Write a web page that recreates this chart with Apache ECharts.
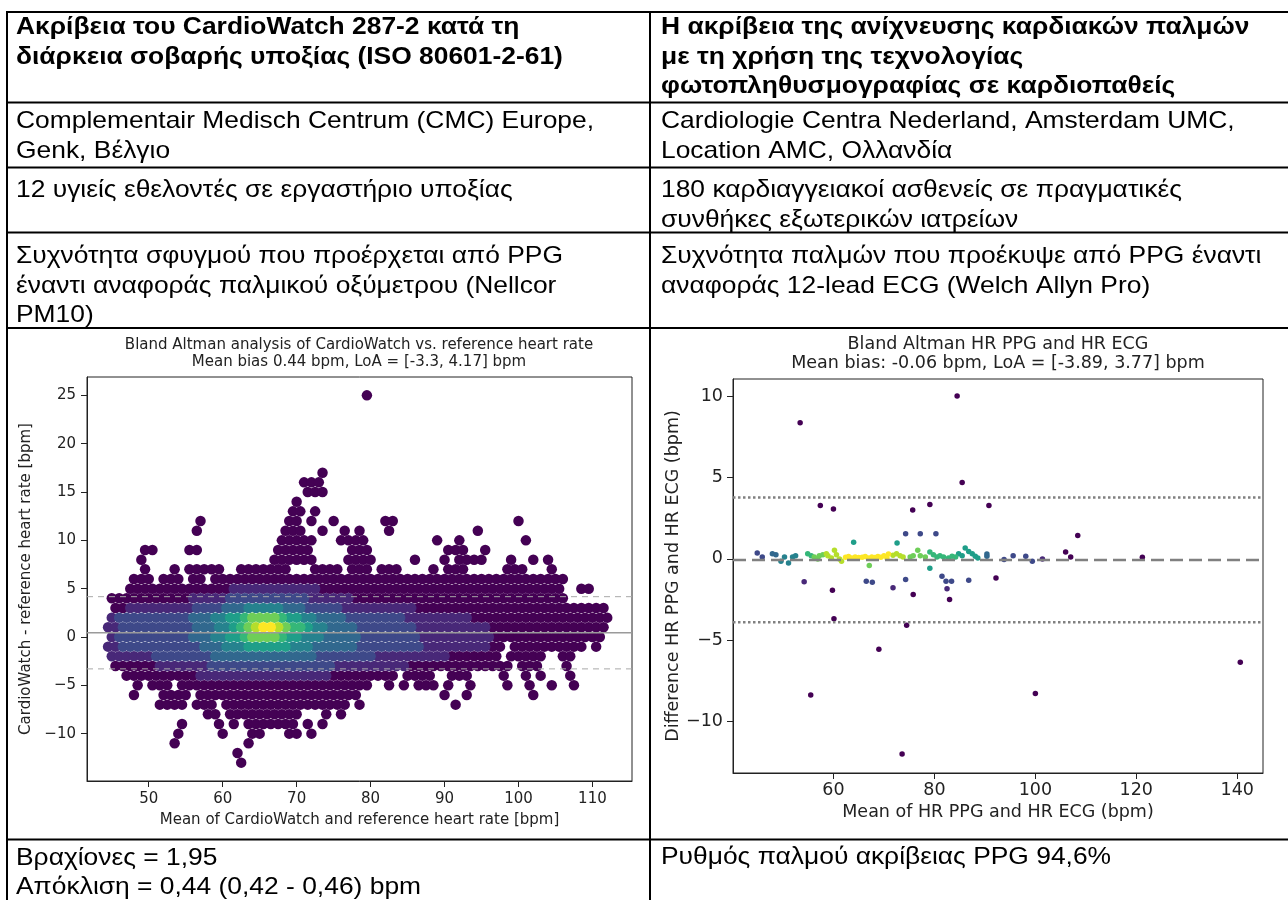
<!DOCTYPE html>
<html>
<head>
<meta charset="utf-8">
<script src="https://cdn.jsdelivr.net/npm/echarts@6.0.0/dist/echarts.min.js"></script>
<style>
  html, body { margin: 0; padding: 0; background: #fff; }
  #c { width: 1288px; height: 900px; }
</style>
</head>
<body>
<div id="c"></div>
<script>
// ---------- table text ----------
const leftHeader = ["Ακρίβεια του CardioWatch 287-2 κατά τη", "διάρκεια σοβαρής υποξίας (ISO 80601-2-61)"];
const rightHeader = ["Η ακρίβεια της ανίχνευσης καρδιακών παλμών", "με τη χρήση της τεχνολογίας", "φωτοπληθυσμογραφίας σε καρδιοπαθείς"];
const leftSite = ["Complementair Medisch Centrum (CMC) Europe,", "Genk, Βέλγιο"];
const rightSite = ["Cardiologie Centra Nederland, Amsterdam UMC,", "Location AMC, Ολλανδία"];
const leftSubjects = ["12 υγιείς εθελοντές σε εργαστήριο υποξίας"];
const rightSubjects = ["180 καρδιαγγειακοί ασθενείς σε πραγματικές", "συνθήκες εξωτερικών ιατρείων"];
const leftMethod = ["Συχνότητα σφυγμού που προέρχεται από PPG", "έναντι αναφοράς παλμικού οξύμετρου (Nellcor", "PM10)"];
const rightMethod = ["Συχνότητα παλμών που προέκυψε από PPG έναντι", "αναφοράς 12-lead ECG (Welch Allyn Pro)"];
const leftResult = ["Βραχίονες = 1,95", "Απόκλιση = 0,44 (0,42 - 0,46) bpm"];
const rightResult = ["Ρυθμός παλμού ακρίβειας PPG 94,6%"];

// ---------- CardioWatch Bland-Altman (left) ----------
const cwBias = 0.44;
const cwLoA = [-3.3, 4.17];
const cwXRange = [41.65, 115.35];
const cwYRange = [-14.9, 26.9];
const cwXTicks = [50, 60, 70, 80, 90, 100, 110];
const cwYTicks = [-10, -5, 0, 5, 10, 15, 20, 25];
// rows of points: [difference, first mean, last mean, density level 0-9], one point per bpm
const cwUpper = [
  [25, 79.5, 79.5, 0],
  [17, 73.5, 73.5, 0],
  [16, 71, 73, 0],
  [15, 71.5, 73.5, 0],
  [14, 70, 70, 0],
  [13, 69.5, 70.5, 0], [13, 72.5, 72.5, 0],
  [12, 57, 57, 0], [12, 69, 70, 0], [12, 72, 72, 0], [12, 75, 75, 0], [12, 82, 83, 0], [12, 100, 100, 0],
  [11, 56.5, 56.5, 0], [11, 68.5, 70.5, 0], [11, 73.5, 73.5, 0], [11, 76.5, 76.5, 0], [11, 78.5, 78.5, 0], [11, 82.5, 82.5, 0], [11, 94.5, 94.5, 0],
  [10, 68, 72, 0], [10, 76, 79, 0], [10, 89, 89, 0], [10, 92, 92, 0], [10, 101, 101, 0],
  [9, 49.5, 50.5, 0], [9, 55.5, 56.5, 0], [9, 67.5, 71.5, 0], [9, 77.5, 79.5, 0], [9, 90.5, 92.5, 0], [9, 95.5, 95.5, 0],
  [8, 49, 49, 0], [8, 67, 72, 0], [8, 77, 80, 0], [8, 86, 86, 0], [8, 90, 90, 0], [8, 92, 95, 0], [8, 99, 99, 0], [8, 102, 102, 0], [8, 104, 104, 0],
  [7, 49.5, 49.5, 0], [7, 53.5, 53.5, 0], [7, 55.5, 59.5, 0], [7, 62.5, 68.5, 0], [7, 72.5, 75.5, 0], [7, 77.5, 79.5, 0], [7, 81.5, 83.5, 0], [7, 88.5, 88.5, 0], [7, 90.5, 92.5, 0], [7, 98.5, 100.5, 0], [7, 104.5, 104.5, 0],
  [6, 48, 50, 0], [6, 52, 54, 0], [6, 56, 57, 0], [6, 59, 106, 0]
];
const cwBody = [
  [5, 47.5, 60.5, 0], [5, 61.5, 72.5, 1], [5, 73.5, 105.5, 0], [5, 108.5, 109.5, 0],
  [4, 45, 55, 0], [4, 56, 60, 1], [4, 61, 71, 2], [4, 72, 77, 1], [4, 78, 106, 0],
  [3, 45.5, 46.5, 0], [3, 47.5, 55.5, 1], [3, 56.5, 59.5, 2], [3, 60.5, 62.5, 3], [3, 63.5, 67.5, 4], [3, 68.5, 70.5, 3], [3, 71.5, 75.5, 2], [3, 76.5, 85.5, 1], [3, 86.5, 111.5, 0],
  [2, 45, 45, 1], [2, 46, 55, 2], [2, 56, 58, 3], [2, 59, 60, 4], [2, 61, 62, 5], [2, 63, 63, 6], [2, 64, 67, 7], [2, 68, 68, 6], [2, 69, 70, 5], [2, 71, 72, 4], [2, 73, 76, 3], [2, 77, 84, 2], [2, 85, 93, 1], [2, 94, 112, 0],
  [1, 44.5, 45.5, 1], [1, 46.5, 55.5, 2], [1, 56.5, 58.5, 3], [1, 59.5, 60.5, 4], [1, 61.5, 61.5, 5], [1, 62.5, 62.5, 6], [1, 63.5, 63.5, 7], [1, 64.5, 64.5, 8], [1, 65.5, 66.5, 9], [1, 67.5, 67.5, 8], [1, 68.5, 68.5, 7], [1, 69.5, 70.5, 6], [1, 71.5, 71.5, 5], [1, 72.5, 73.5, 4], [1, 74.5, 77.5, 3], [1, 78.5, 85.5, 2], [1, 86.5, 95.5, 1], [1, 96.5, 111.5, 0],
  [0, 45, 45, 1], [0, 46, 55, 2], [0, 56, 58, 3], [0, 59, 60, 4], [0, 61, 62, 5], [0, 63, 63, 6], [0, 64, 67, 7], [0, 68, 68, 6], [0, 69, 70, 5], [0, 71, 73, 4], [0, 74, 78, 3], [0, 79, 86, 2], [0, 87, 96, 1], [0, 97, 111, 0],
  [-1, 44.5, 45.5, 1], [-1, 46.5, 56.5, 2], [-1, 57.5, 59.5, 3], [-1, 60.5, 62.5, 4], [-1, 63.5, 68.5, 5], [-1, 69.5, 71.5, 4], [-1, 72.5, 77.5, 3], [-1, 78.5, 86.5, 2], [-1, 87.5, 95.5, 1], [-1, 96.5, 97.5, 0], [-1, 99.5, 108.5, 0], [-1, 110.5, 110.5, 0],
  [-2, 45, 50, 1], [-2, 51, 58, 2], [-2, 59, 72, 3], [-2, 73, 80, 2], [-2, 81, 90, 1], [-2, 91, 97, 0], [-2, 99, 103, 0], [-2, 106, 107, 0],
  [-3, 45.5, 50.5, 0], [-3, 51.5, 57.5, 1], [-3, 58.5, 74.5, 2], [-3, 75.5, 84.5, 1], [-3, 85.5, 98.5, 0], [-3, 100.5, 102.5, 0], [-3, 106.5, 106.5, 0],
  [-4, 47, 56, 0], [-4, 57, 74, 1], [-4, 75, 83, 0], [-4, 85, 88, 0], [-4, 91, 93, 0], [-4, 98, 98, 0], [-4, 101, 101, 0], [-4, 103, 103, 0], [-4, 107, 107, 0]
];
const cwLower = [
  [-5, 48.5, 48.5, 0], [-5, 50.5, 52.5, 0], [-5, 54.5, 56.5, 0], [-5, 57.5, 79.5, 0], [-5, 82.5, 82.5, 0], [-5, 84.5, 84.5, 0], [-5, 86.5, 88.5, 0], [-5, 90.5, 90.5, 0], [-5, 93.5, 93.5, 0], [-5, 98.5, 98.5, 0], [-5, 101.5, 101.5, 0], [-5, 104.5, 104.5, 0], [-5, 107.5, 107.5, 0],
  [-6, 48, 48, 0], [-6, 52, 55, 0], [-6, 57, 78, 0], [-6, 90, 90, 0], [-6, 93, 93, 0], [-6, 102, 102, 0],
  [-7, 51.5, 54.5, 0], [-7, 56.5, 58.5, 0], [-7, 60.5, 76.5, 0], [-7, 78.5, 78.5, 0], [-7, 91.5, 91.5, 0],
  [-8, 58, 59, 0], [-8, 61, 70, 0], [-8, 74, 74, 0], [-8, 76, 76, 0],
  [-9, 54.5, 54.5, 0], [-9, 59.5, 59.5, 0], [-9, 61.5, 61.5, 0], [-9, 63.5, 69.5, 0], [-9, 71.5, 71.5, 0], [-9, 73.5, 73.5, 0],
  [-10, 54, 54, 0], [-10, 60, 60, 0], [-10, 64, 65, 0], [-10, 69, 70, 0], [-10, 72, 72, 0],
  [-11, 53.5, 53.5, 0], [-11, 63.5, 63.5, 0],
  [-12, 62, 62, 0],
  [-13, 62.5, 62.5, 0]
];

// ---------- PPG vs ECG Bland-Altman (right) ----------
const ppgBias = -0.06;
const ppgLoA = [-3.89, 3.77];
const ppgXRange = [40.1, 145.1];
const ppgYRange = [-13.15, 11.05];
const ppgXTicks = [60, 80, 100, 120, 140];
const ppgYTicks = [-10, -5, 0, 5, 10];
// [mean HR, difference, density level 0-9]
const ppgBand = [
  [44.9, 0.37, 2], [45.9, 0.12, 2], [47.9, 0.32, 3], [48.6, 0.26, 3],
  [49.6, -0.15, 4], [50.3, 0.12, 4], [51.1, -0.25, 4], [51.9, 0.12, 4], [52.5, 0.2, 4],
  [54.9, 0.32, 6], [55.6, 0.2, 6], [56.2, 0.12, 7], [56.9, 0.0, 7], [57.2, 0.2, 7], [57.9, 0.26, 7],
  [58.6, 0.32, 8], [58.9, 0.2, 8], [59.6, 0.06, 8], [60.2, 0.53, 8], [60.6, 0.26, 8], [61.2, 0.0, 8], [61.6, -0.15, 8],
  [62.4, 0.1, 9], [63.0, 0.15, 9], [63.6, 0.05, 9], [64.3, 0.12, 9], [65.0, 0.08, 9], [65.7, 0.1, 9],
  [66.3, 0.15, 9], [66.9, 0.05, 9], [67.6, 0.12, 9], [68.2, 0.08, 9], [68.8, 0.15, 9], [69.4, 0.1, 9],
  [70.0, 0.2, 9], [70.6, 0.05, 9], [70.9, 0.3, 9],
  [71.8, 0.22, 8], [72.5, 0.32, 8], [73.2, 0.2, 8], [73.8, 0.12, 8],
  [75.2, 0.12, 7], [75.8, 0.2, 7], [76.7, 0.53, 7], [77.2, 0.2, 7], [78.2, 0.12, 7],
  [79.1, 0.43, 6], [79.8, 0.26, 6], [80.5, 0.12, 6], [81.1, 0.2, 6], [81.8, 0.12, 6], [82.8, 0.06, 6], [83.5, 0.16, 6], [84.2, 0.12, 6],
  [84.8, 0.32, 5], [85.5, 0.2, 5], [86.1, 0.67, 5], [86.8, 0.46, 5], [87.5, 0.32, 5], [88.1, 0.16, 5], [88.6, 0.06, 5],
  [90.4, 0.3, 3], [90.4, 0.16, 3],
  [93.8, -0.04, 2], [95.6, 0.2, 2], [98.1, 0.16, 2], [99.4, -0.15, 2], [101.4, 0.0, 1],
  [106.0, 0.43, 0], [107.0, 0.12, 0], [121.2, 0.1, 0]
];
const ppgOff = [
  [53.4, 8.36, 0], [84.5, 10.0, 0], [85.5, 4.69, 0], [57.4, 3.28, 0], [60.0, 3.06, 0], [75.7, 3.0, 0],
  [79.1, 3.34, 0], [90.8, 3.28, 0], [108.4, 1.43, 0],
  [64.0, 1.02, 5], [72.6, 0.98, 5], [74.3, 1.55, 2], [77.2, 1.55, 2], [80.3, 1.55, 2],
  [54.2, -1.41, 1], [59.8, -1.92, 0], [60.1, -3.67, 0], [66.5, -1.37, 2], [67.7, -1.43, 2],
  [71.8, -1.77, 1], [74.3, -1.27, 2], [75.8, -2.18, 0], [74.5, -4.08, 0], [67.1, -0.41, 7],
  [79.1, -0.57, 5], [81.5, -1.06, 2], [82.3, -1.37, 2], [83.4, -1.37, 2], [82.5, -1.84, 1],
  [83.0, -2.5, 0], [86.8, -1.31, 2], [92.2, -1.18, 0],
  [69.0, -5.55, 0], [55.5, -8.36, 0], [73.6, -11.99, 0], [100.0, -8.26, 0], [140.6, -6.34, 0]
];

// ---------- helpers ----------
const viridis = ['#440154', '#482878', '#3e4989', '#31688e', '#26828e', '#1f9e89', '#35b779', '#6ece58', '#b5de2b', '#fde725'];
const byLevel = (a, b) => a[2] - b[2];

function expandRows(rows) {
  const pts = [];
  rows.forEach(([y, x0, x1, lvl]) => {
    for (let x = x0; x <= x1 + 1e-9; x += 1) pts.push([x, y, lvl]);
  });
  return pts;
}
const cwPoints = expandRows(cwUpper.concat(cwBody, cwLower)).sort(byLevel);
const ppgPoints = ppgBand.concat(ppgOff).sort(byLevel);

const minus = v => String(v).replace('-', '\u2212');
const fmt = v => (v < 0 ? '-' : '') + Math.abs(v);

const cwTitle = 'Bland Altman analysis of CardioWatch vs. reference heart rate\nMean bias ' + cwBias +
  ' bpm, LoA = [' + fmt(cwLoA[0]) + ', ' + fmt(cwLoA[1]) + '] bpm';
const ppgTitle = 'Bland Altman HR PPG and HR ECG\nMean bias: ' + ppgBias.toFixed(2) +
  ' bpm, LoA = [' + ppgLoA[0] + ', ' + ppgLoA[1] + '] bpm';

// ---------- table drawing ----------
const tableFont = 'Liberation Sans, Arial, sans-serif';
const TFS = 24, TLH = 29.4, TSX = 1.1;
function cell(lines, x, yMid, bold) {
  return {
    type: 'text', x: x, y: yMid - TLH / 2, scaleX: TSX, silent: true,
    style: {
      text: lines.join('\n'), fill: '#000', lineHeight: TLH,
      font: (bold ? 'bold ' : '') + TFS + 'px ' + tableFont,
      verticalAlign: 'top', align: 'left'
    }
  };
}
function hline(y, x1, x2) {
  return { type: 'line', silent: true, shape: { x1: x1, y1: y, x2: x2, y2: y }, style: { stroke: '#000', lineWidth: 2 } };
}
function vline(x, y1, y2) {
  return { type: 'line', silent: true, shape: { x1: x, y1: y1, x2: x, y2: y2 }, style: { stroke: '#000', lineWidth: 2 } };
}
const LX = 16, RX = 661;
const graphics = [
  hline(12, 6, 1288), hline(102.5, 6, 1288), hline(167.5, 6, 1288), hline(232.5, 6, 1288),
  hline(328, 6, 1288), hline(839.5, 6, 1288),
  vline(7, 11, 900), vline(650, 11, 900),
  cell(leftHeader, LX, 27.5, true), cell(rightHeader, RX, 27.5, true),
  cell(leftSite, LX, 121.5), cell(rightSite, RX, 121.5),
  cell(leftSubjects, LX, 190.5), cell(rightSubjects, RX, 190.5),
  cell(leftMethod, LX, 256.5), cell(rightMethod, RX, 256.5),
  cell(leftResult, LX, 858), cell(rightResult, RX, 857.5)
];

// ---------- axes ----------
const chartFont = 'DejaVu Sans, sans-serif';
function valueAxis(grid, range, ticks, fs, margin, name, gap) {
  return {
    type: 'value', gridIndex: grid, min: range[0], max: range[1],
    splitLine: { show: false },
    axisLine: { show: true, onZero: false, lineStyle: { color: '#222', width: 1 } },
    axisTick: { show: true, customValues: ticks, length: 6, lineStyle: { color: '#222', width: 1 } },
    axisLabel: { customValues: ticks, formatter: minus, fontSize: fs, color: '#222', margin: margin, fontFamily: chartFont },
    name: name, nameLocation: 'middle', nameGap: gap,
    nameTextStyle: { fontSize: fs, color: '#222', fontFamily: chartFont }
  };
}
function hLineSeries(xi, xr, y, style, z) {
  return {
    type: 'line', xAxisIndex: xi, yAxisIndex: xi, data: [[xr[0], y], [xr[1], y]],
    symbol: 'none', lineStyle: style, z: z, silent: true, animation: false
  };
}

const option = {
  animation: false,
  backgroundColor: '#fff',
  graphic: graphics,
  title: [
    { text: cwTitle, left: 359, top: 336.5, textAlign: 'center', padding: 0,
      textStyle: { fontFamily: chartFont, fontSize: 15, fontWeight: 'normal', color: '#222', lineHeight: 17 } },
    { text: ppgTitle, left: 998, top: 334.5, textAlign: 'center', padding: 0,
      textStyle: { fontFamily: chartFont, fontSize: 17.5, fontWeight: 'normal', color: '#222', lineHeight: 19.5 } }
  ],
  grid: [
    { left: 87, top: 377, width: 545, height: 404, show: true, borderColor: '#222', borderWidth: 1, backgroundColor: 'transparent' },
    { left: 733, top: 379, width: 530, height: 394, show: true, borderColor: '#222', borderWidth: 1, backgroundColor: 'transparent' }
  ],
  xAxis: [
    valueAxis(0, cwXRange, cwXTicks, 15, 10.5, 'Mean of CardioWatch and reference heart rate [bpm]', 31.5),
    valueAxis(1, ppgXRange, ppgXTicks, 17.5, 8.5, 'Mean of HR PPG and HR ECG (bpm)', 30)
  ],
  yAxis: [
    valueAxis(0, cwYRange, cwYTicks, 15, 11, 'CardioWatch - reference heart rate [bpm]', 53.5),
    valueAxis(1, ppgYRange, ppgYTicks, 17.5, 10, 'Difference HR PPG and HR ECG (bpm)', 49.5)
  ],
  series: [
    {
      type: 'scatter', xAxisIndex: 0, yAxisIndex: 0, data: cwPoints, symbolSize: 10.5, z: 2,
      silent: true, progressive: 0, large: false,
      itemStyle: { color: p => viridis[p.data[2]], opacity: 1 }
    },
    hLineSeries(0, cwXRange, cwBias, { color: '#9a9a9a', width: 1.5 }, 5),
    hLineSeries(0, cwXRange, cwLoA[0], { color: '#a8a8a8', width: 1, type: [6, 5] }, 5),
    hLineSeries(0, cwXRange, cwLoA[1], { color: '#a8a8a8', width: 1, type: [6, 5] }, 5),
    {
      type: 'scatter', xAxisIndex: 1, yAxisIndex: 1, data: ppgPoints, symbolSize: 5.5, z: 2,
      silent: true, progressive: 0,
      itemStyle: { color: p => viridis[p.data[2]], opacity: 1 }
    },
    hLineSeries(1, ppgXRange, ppgBias, { color: '#808080', width: 2.5, type: [13, 6] }, 5),
    hLineSeries(1, ppgXRange, ppgLoA[0], { color: '#808080', width: 2.5, type: [2.5, 2.5] }, 5),
    hLineSeries(1, ppgXRange, ppgLoA[1], { color: '#808080', width: 2.5, type: [2.5, 2.5] }, 5)
  ]
};

const chart = echarts.init(document.getElementById('c'), null, { renderer: 'canvas' });
chart.setOption(option);
</script>
</body>
</html>
